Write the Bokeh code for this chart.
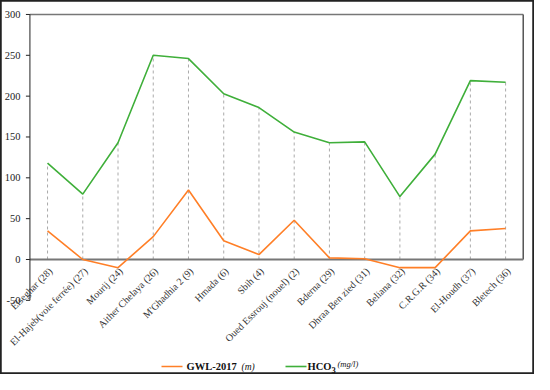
import math
from bokeh.plotting import figure
from bokeh.models import Range1d, Label, LabelSet, ColumnDataSource, BoxAnnotation
from bokeh.core.properties import value
from bokeh.embed import file_html
from bokeh.resources import INLINE

categories = ["Elseghar (28)", "El-Hajeb(voie ferrée) (27)", "Mourij (24)", "Aither Chelaya (26)",
              "M'Ghadhia 2 (9)", "Hmada (6)", "Sbih (4)", "Oued Essrouj (nouel) (2)", "Bderna (29)",
              "Dhraa Ben zied (31)", "Beliana (32)", "C.R.G.R (34)", "El-Houdh (37)", "Bletech (36)"]
gwl_2017 = [35, 0, -10, 28, 85, 23, 6, 48, 2, 1, -10, -10, 35, 38]
hco3 = [118, 80, 143, 250, 246, 203, 186, 156, 143, 144, 77, 129, 219, 217]
y_ticks = [-50, 0, 50, 100, 150, 200, 250, 300]

ORANGE = "#FF7F27"
GREEN = "#3FAF3A"
FONT = "Liberation Serif"
W, H = 534, 374
PX_PER_CAT = 35.23
N = len(categories)

p = figure(width=W, height=H, output_backend="svg", toolbar_location=None,
           x_axis_location=None, y_axis_location=None,
           x_range=Range1d(-0.835, 14.32), y_range=Range1d(-140.8, 317.1),
           min_border_left=0, min_border_right=0, min_border_top=0, min_border_bottom=0)
p.outline_line_color = "#222222"
p.outline_line_width = 2.5
p.xgrid.visible = False
p.ygrid.visible = False

# category i sits in the middle of its band on the synthetic axis
xs = [i + 0.5 for i in range(N)]
src = ColumnDataSource(dict(x=xs, cat=categories, gwl=gwl_2017, hco3=hco3, zero=[0] * N))

# drop lines
p.segment(x0="x", y0="zero", x1="x", y1="hco3", source=src,
          line_color="#AAAAAA", line_dash="3 3", line_width=1)

# plot frame (top, right) and zero axis
p.segment(x0=[0], y0=[y_ticks[-1]], x1=[N], y1=[y_ticks[-1]], line_color="#777777", line_width=1.5)
p.segment(x0=[N], y0=[0], x1=[N], y1=[y_ticks[-1]], line_color="#555555", line_width=1.5)
p.segment(x0=[0], y0=[0], x1=[N], y1=[0], line_color="#777777", line_width=2)

# y axis drawn by hand (so that nothing clips the rotated category labels)
tick_len = 4 / PX_PER_CAT
p.segment(x0=[0], y0=[y_ticks[0]], x1=[0], y1=[y_ticks[-1]], line_color="#222222", line_width=1)
ysrc = ColumnDataSource(dict(y=y_ticks, lab=[str(t) for t in y_ticks],
                             x0=[0] * len(y_ticks), x1=[-tick_len] * len(y_ticks)))
p.segment(x0="x0", y0="y", x1="x1", y1="y", source=ysrc, line_color="#222222", line_width=1)
p.text(x="x0", y="y", text="lab", source=ysrc, x_offset=-9.5, text_align="right",
       text_baseline="middle", text_font=value(FONT), text_font_size="10.5px", text_color="#222222")

p.line(x="x", y="hco3", source=src, line_color=GREEN, line_width=1.6)
p.line(x="x", y="gwl", source=src, line_color=ORANGE, line_width=1.6)

# category labels at the zero line
p.add_layout(LabelSet(x="x", y="zero", text="cat", source=src, angle=math.pi / 4,
                      text_align="right", text_baseline="middle", x_offset=3, y_offset=-10,
                      text_font=FONT, text_font_size="10px", text_color="#333333"))

# legend (manual, screen units)
ly = 8
legend_items = [
    ("GWL-2017", 186, ly, "bold", "10.5px"),
    ("(m)", 241, ly, "italic", "9.5px"),
    ("HCO", 307, ly, "bold", "10.5px"),
    ("3", 331, ly - 3, "bold", "8.5px"),
    ("(mg/l)", 337, ly + 3, "italic", "8.5px"),
]
for txt, x, y, style, size in legend_items:
    p.add_layout(Label(x=x, y=y, x_units="screen", y_units="screen", text=txt,
                       text_font=FONT, text_font_style=style, text_font_size=size,
                       text_baseline="middle", text_color="#111111"))

for l, r, c in [(161, 182, ORANGE), (285, 306, GREEN)]:
    p.add_layout(BoxAnnotation(left=l, right=r, bottom=ly - 0.8, top=ly + 0.8,
                               left_units="screen", right_units="screen",
                               bottom_units="screen", top_units="screen",
                               fill_color=c, fill_alpha=1, line_color=None, level="overlay"))

open("out.html", "w").write(file_html(p, INLINE))
